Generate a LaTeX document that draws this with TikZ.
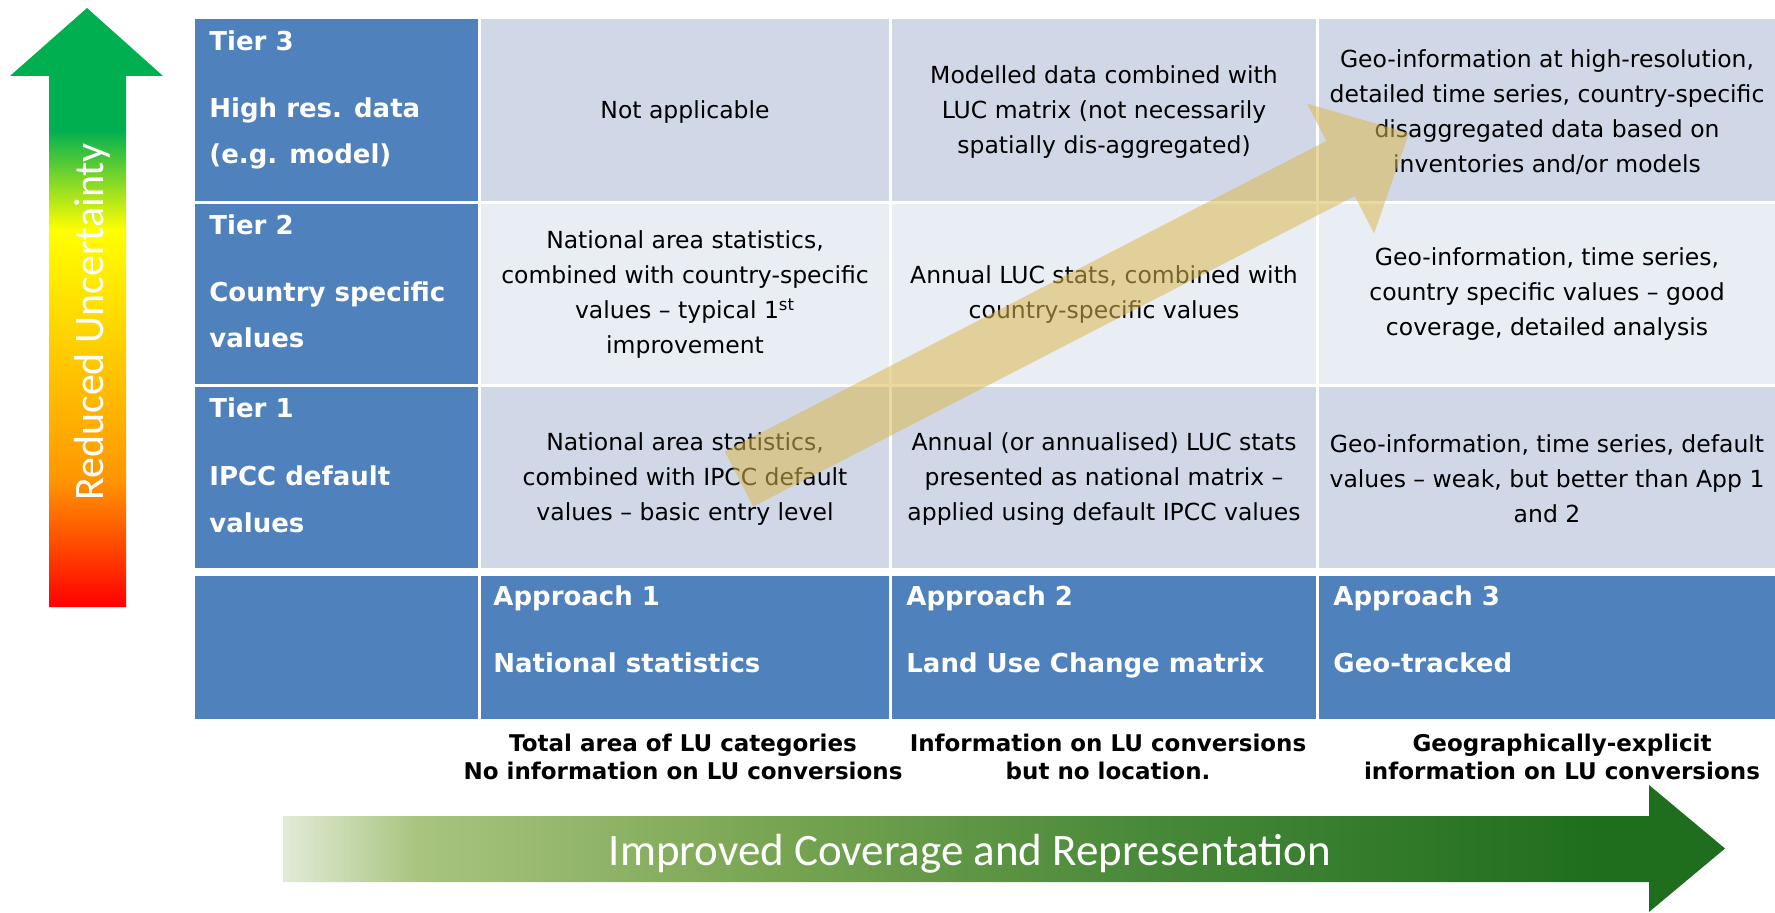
\documentclass[tikz,border=0pt]{standalone}
\usepackage{fontspec}
\setmainfont{DejaVu Sans}
\newfontfamily\lightfont{Carlito}
\definecolor{hdrblue}{RGB}{79,129,189}
\definecolor{bandA}{RGB}{208,216,232}
\definecolor{bandB}{RGB}{233,237,244}
\definecolor{tanarrow}{RGB}{220,185,80}
\definecolor{ugreen}{RGB}{0,176,80}
\definecolor{uyellow}{RGB}{255,255,0}
\definecolor{ugold}{RGB}{255,192,0}
\definecolor{uorange}{RGB}{255,150,0}
\definecolor{ured}{RGB}{255,0,0}
\definecolor{gA}{RGB}{226,235,215}
\definecolor{gB}{RGB}{168,196,126}
\definecolor{gC}{RGB}{120,165,82}
\definecolor{gD}{RGB}{74,138,58}
\definecolor{gE}{RGB}{30,110,30}
\definecolor{gF}{RGB}{27,107,27}
\pgfdeclareverticalshading{uncertshade}{100bp}{color(0bp)=(ured); color(25bp)=(ured); color(35.6bp)=(uorange); color(43.9bp)=(ugold); color(56.5bp)=(uyellow); color(64.8bp)=(ugreen); color(100bp)=(ugreen)}
\pgfdeclarehorizontalshading{coverageshade}{100bp}{color(0bp)=(gA); color(25bp)=(gA); color(29.7bp)=(gB); color(41.9bp)=(gC); color(54.4bp)=(gD); color(70.7bp)=(gE); color(100bp)=(gF)}
\begin{document}
\begin{tikzpicture}[x=0.5pt,y=-0.5pt,
  celltext/.style={align=center, inner sep=0pt, text=black, font=\fontsize{11.75pt}{17.5pt}\selectfont},
  hdrtext/.style={anchor=base west, inner sep=0pt, text=white, font=\bfseries\fontsize{13pt}{16pt}\selectfont},
  captext/.style={align=center, inner sep=0pt, text=black, font=\bfseries\fontsize{11.5pt}{14pt}\selectfont},
  bigtext/.style={inner sep=0pt, text=white, anchor=base},
  tanblock/.style={fill=tanarrow, fill opacity=0.55, draw=none}
]
\fill[white] (0,0) rectangle (1775,913);
\useasboundingbox (0,0) rectangle (1775,913);

% ---- table cells ----
% header column
\fill[hdrblue] (195,19) rectangle (478,201);
\fill[hdrblue] (195,204) rectangle (478,384);
\fill[hdrblue] (195,387) rectangle (478,568);
\fill[hdrblue] (195,576) rectangle (478,719);
% tier 3 row
\fill[bandA] (481,19) rectangle (889,201);
\fill[bandA] (892,19) rectangle (1316,201);
\fill[bandA] (1319,19) rectangle (1775,201);
% tier 2 row
\fill[bandB] (481,204) rectangle (889,384);
\fill[bandB] (892,204) rectangle (1316,384);
\fill[bandB] (1319,204) rectangle (1775,384);
% tier 1 row
\fill[bandA] (481,387) rectangle (889,568);
\fill[bandA] (892,387) rectangle (1316,568);
\fill[bandA] (1319,387) rectangle (1775,568);
% approach row
\fill[hdrblue] (481,576) rectangle (889,719);
\fill[hdrblue] (892,576) rectangle (1316,719);
\fill[hdrblue] (1319,576) rectangle (1775,719);

% ---- header column text ----
\node[hdrtext] (t3) at (209,51) {Tier 3};
\node[hdrtext] (t3a) at (209,118) {High res. data};
\node[hdrtext] (t3b) at (209,164) {(e.g. model)};
\node[hdrtext] (t2) at (209,235) {Tier 2};
\node[hdrtext] (t2a) at (209,302) {Country specific};
\node[hdrtext] (t2b) at (209,348) {values};
\node[hdrtext] (t1) at (209,418) {Tier 1};
\node[hdrtext] (t1a) at (209,486) {IPCC default};
\node[hdrtext] (t1b) at (209,532) {values};

% ---- approach row text ----
\node[hdrtext] (a1) at (493,605) {Approach 1};
\node[hdrtext] (a1b) at (493,672) {National statistics};
\node[hdrtext] (a2) at (906,605) {Approach 2};
\node[hdrtext] (a2b) at (906,672) {Land Use Change matrix};
\node[hdrtext] (a3) at (1333,605) {Approach 3};
\node[hdrtext] (a3b) at (1333,672) {Geo-tracked};

% ---- cell text ----
\node[celltext] (c31) at (685,112) {Not applicable};
\node[celltext] (c32) at (1104,112) {Modelled data combined with\\LUC matrix (not necessarily\\spatially dis-aggregated)};
\node[celltext] (c33) at (1547,112) {Geo-information at high-resolution,\\detailed time series, country-specific\\disaggregated data based on\\inventories and/or models};
\node[celltext] (c21) at (685,295) {National area statistics,\\combined with country-specific\\values – typical 1\textsuperscript{st}\\improvement};
\node[celltext] (c22) at (1104,295) {Annual LUC stats, combined with\\country-specific values};
\node[celltext] (c23) at (1547,294) {Geo-information, time series,\\country specific values – good\\coverage, detailed analysis};
\node[celltext] (c11) at (685,479) {National area statistics,\\combined with IPCC default\\values – basic entry level};
\node[celltext] (c12) at (1104,479) {Annual (or annualised) LUC stats\\presented as national matrix –\\applied using default IPCC values};
\node[celltext] (c13) at (1547,479) {Geo-information, time series, default\\values – weak, but better than App 1\\and 2};

% ---- captions ----
\node[captext] (k1) at (683,757) {Total area of LU categories\\No information on LU conversions};
\node[captext] (k2) at (1108,757) {Information on LU conversions\\but no location.};
\node[captext] (k3) at (1562,757) {Geographically-explicit\\information on LU conversions};

% ---- diagonal progress arrow ----
\begin{scope}[shift={(739,479)}, rotate=27.3]
\fill[tanblock] (0,-31) -- (677,-31) -- (677,-73) -- (754,0) -- (677,73) -- (677,31) -- (0,31) -- cycle;
\end{scope}

% ---- vertical uncertainty arrow ----
\shade[shading=uncertshade] (49,607) -- (49,76) -- (10,76) -- (87,8) -- (163,76) -- (126,76) -- (126,607) -- cycle;
\node[bigtext, rotate=90, font=\lightfont\fontsize{21pt}{25pt}\selectfont] (unc) at (103,322) {Reduced Uncertainty};

% ---- horizontal coverage arrow ----
\shade[shading=coverageshade] (283,816) -- (1649,816) -- (1649,785) -- (1725,848.5) -- (1649,912) -- (1649,882) -- (283,882) -- cycle;
\node[bigtext, font=\lightfont\fontsize{22.5pt}{26pt}\selectfont] (cov) at (970,865) {Improved Coverage and Representation};
\end{tikzpicture}
\end{document}
